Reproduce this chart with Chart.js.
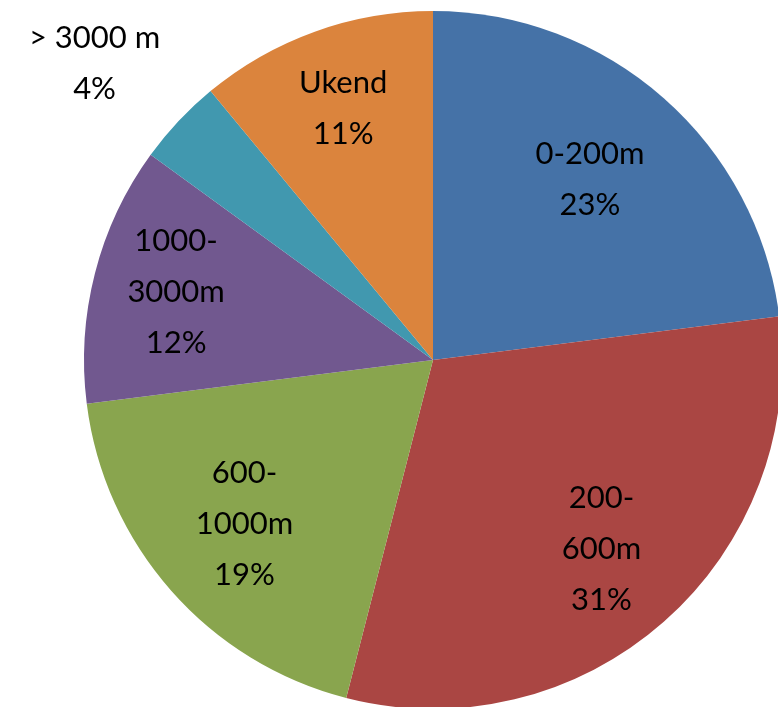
<!DOCTYPE html>
<html>
<head>
<meta charset="utf-8">
<script src="https://cdn.jsdelivr.net/npm/chart.js@4"></script>
<style>
  html, body { margin: 0; padding: 0; background: #fff; overflow: hidden; }
  #wrap { position: relative; width: 778px; height: 707px; }
</style>
</head>
<body>
<div id="wrap"><canvas id="pieChart"></canvas></div>
<script>
// categories and values
const labels = ["0-200m", "200-600m", "600-1000m", "1000-3000m", "> 3000 m", "Ukend"];
const values = [23, 31, 19, 12, 4, 11];
// how each label is broken into lines
const labelLines = [
  ["0-200m"],
  ["200-", "600m"],
  ["600-", "1000m"],
  ["1000-", "3000m"],
  ["> 3000 m"],
  ["Ukend"]
];

const sliceColors = ["#4572A7", "#AA4643", "#89A54E", "#71588F", "#4198AF", "#DB843D"];
// label distance from centre (share of radius) and small angle nudge in degrees
const labelRadius = [0.68, 0.73, 0.72, 0.76, 1.285, 0.76];
const labelNudge = [0, 0, 0, 0, -2.2, 0];

// draws the text inside / next to each slice
const sliceLabels = {
  id: "sliceLabels",
  afterDatasetsDraw(chart) {
    const ctx = chart.ctx;
    const meta = chart.getDatasetMeta(0);
    ctx.save();
    ctx.font = "31px Lato";
    ctx.fillStyle = "#000";
    ctx.textAlign = "center";
    ctx.textBaseline = "middle";
    meta.data.forEach((arc, i) => {
      const p = arc.getProps(["x", "y", "startAngle", "endAngle", "outerRadius"]);
      const mid = (p.startAngle + p.endAngle) / 2 + labelNudge[i] * Math.PI / 180;
      const r = p.outerRadius * labelRadius[i];
      const cx = p.x + Math.cos(mid) * r;
      const cy = p.y + Math.sin(mid) * r - 2;
      const lines = labelLines[i].concat([values[i] + "%"]);
      const lh = 51;
      const top = cy - (lines.length - 1) * lh / 2;
      lines.forEach((t, j) => ctx.fillText(t, cx, top + j * lh));
    });
    ctx.restore();
  }
};

new Chart(document.getElementById("pieChart"), {
  type: "pie",
  data: {
    labels: labels,
    datasets: [{
      data: values,
      backgroundColor: sliceColors,
      borderWidth: 0,
      hoverOffset: 0,
      radius: 349
    }]
  },
  options: {
    responsive: true,
    maintainAspectRatio: false,
    animation: false,
    layout: { padding: { left: 88, right: 0, top: 13, bottom: 0 } },
    plugins: {
      legend: { display: false },
      tooltip: { enabled: false }
    }
  },
  plugins: [sliceLabels]
});
</script>
</body>
</html>
